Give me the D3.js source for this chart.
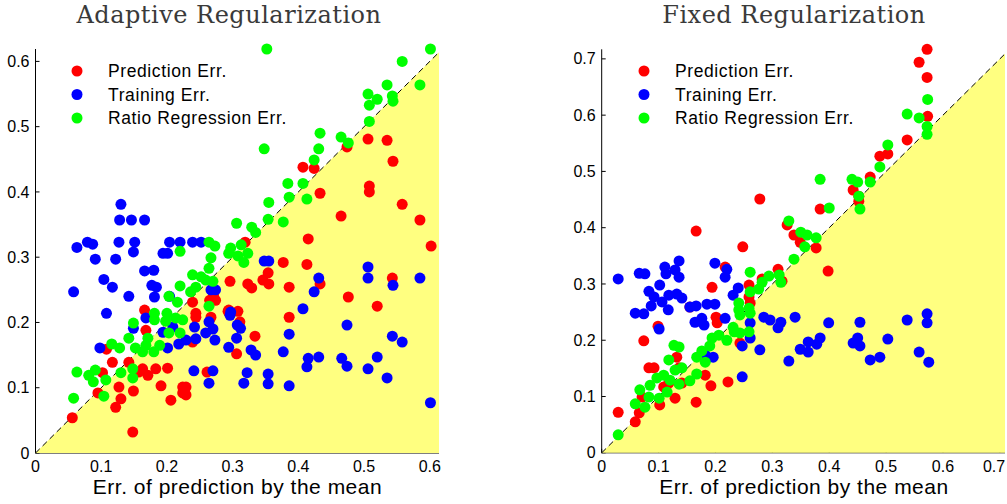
<!DOCTYPE html>
<html>
<head>
<meta charset="utf-8">
<script src="https://cdn.jsdelivr.net/npm/d3@7"></script>
<style>
  body { margin: 0; background: #fff; }
  svg { display: block; }
</style>
</head>
<body>
<svg id="chart" width="1007" height="504"></svg>
<script>
// Legend entries and marker colours (drawn in this order: red, blue, green)
const seriesNames = ["Prediction Err.", "Training Err.", "Ratio Regression Err."];
const seriesColors = ["#ff0000", "#0000ff", "#00ff00"];

// Tick values
const adaptiveTicks = [0, 0.1, 0.2, 0.3, 0.4, 0.5, 0.6];
const fixedTicks = [0, 0.1, 0.2, 0.3, 0.4, 0.5, 0.6, 0.7];

// Adaptive regularization: [error of mean predictor, error]
const adaptivePrediction = [
  [0.474,0.469],[0.506,0.481],[0.535,0.479],[0.544,0.447],[0.407,0.438],[0.424,0.436],
  [0.508,0.409],[0.508,0.400],[0.433,0.398],[0.558,0.381],[0.465,0.363],[0.585,0.357],
  [0.415,0.328],[0.602,0.317],[0.319,0.323],[0.377,0.292],[0.413,0.289],[0.354,0.276],
  [0.346,0.265],[0.355,0.259],[0.296,0.263],[0.323,0.259],[0.329,0.253],[0.386,0.254],
  [0.433,0.259],[0.476,0.239],[0.520,0.225],[0.543,0.268],[0.386,0.208],[0.308,0.217],
  [0.293,0.217],[0.311,0.201],[0.265,0.234],[0.271,0.242],[0.274,0.234],[0.239,0.231],
  [0.244,0.214],[0.294,0.219],[0.166,0.219],[0.334,0.179],[0.306,0.152],[0.261,0.124],
  [0.229,0.101],[0.229,0.089],[0.239,0.170],[0.244,0.208],[0.267,0.208],[0.117,0.139],
  [0.142,0.139],[0.163,0.129],[0.183,0.129],[0.201,0.130],[0.171,0.119],[0.157,0.124],
  [0.102,0.123],[0.095,0.092],[0.127,0.101],[0.149,0.095],[0.191,0.103],[0.206,0.081],
  [0.130,0.083],[0.122,0.070],[0.056,0.054],[0.148,0.032],[0.224,0.101],[0.224,0.092],
  [0.168,0.188],[0.108,0.159]
];
const adaptiveTraining = [
  [0.130,0.381],[0.128,0.357],[0.146,0.357],[0.166,0.357],[0.063,0.315],[0.079,0.323],
  [0.087,0.320],[0.127,0.323],[0.151,0.323],[0.149,0.308],[0.091,0.297],[0.122,0.297],
  [0.204,0.323],[0.220,0.323],[0.239,0.323],[0.252,0.323],[0.194,0.306],[0.201,0.306],
  [0.166,0.279],[0.180,0.280],[0.104,0.266],[0.117,0.254],[0.058,0.247],[0.142,0.240],
  [0.177,0.257],[0.184,0.254],[0.181,0.239],[0.204,0.240],[0.108,0.214],[0.348,0.294],
  [0.355,0.294],[0.431,0.268],[0.424,0.247],[0.267,0.250],[0.274,0.250],[0.407,0.221],
  [0.297,0.216],[0.506,0.285],[0.506,0.268],[0.544,0.257],[0.585,0.268],[0.474,0.196],
  [0.601,0.077],[0.558,0.170],[0.543,0.179],[0.520,0.147],[0.506,0.129],[0.535,0.115],
  [0.466,0.145],[0.474,0.133],[0.415,0.145],[0.431,0.147],[0.413,0.132],[0.386,0.182],
  [0.377,0.155],[0.386,0.103],[0.354,0.121],[0.354,0.106],[0.322,0.123],[0.317,0.107],
  [0.328,0.158],[0.335,0.150],[0.306,0.176],[0.307,0.196],[0.312,0.191],[0.294,0.162],
  [0.273,0.173],[0.270,0.126],[0.264,0.107],[0.241,0.126],[0.242,0.193],[0.264,0.201],
  [0.270,0.190],[0.259,0.184],[0.244,0.175],[0.229,0.173],[0.296,0.211],[0.098,0.161],
  [0.149,0.191],[0.168,0.207],[0.194,0.185],[0.209,0.193],[0.201,0.161],[0.218,0.167]
];
const adaptiveRatio = [
  [0.352,0.619],[0.601,0.619],[0.558,0.600],[0.535,0.564],[0.585,0.564],[0.506,0.550],
  [0.520,0.542],[0.508,0.533],[0.543,0.547],[0.544,0.539],[0.508,0.508],[0.433,0.490],
  [0.465,0.484],[0.476,0.475],[0.348,0.466],[0.431,0.466],[0.424,0.449],[0.384,0.413],
  [0.407,0.413],[0.413,0.389],[0.386,0.392],[0.355,0.384],[0.306,0.352],[0.329,0.346],
  [0.335,0.338],[0.354,0.358],[0.377,0.354],[0.264,0.323],[0.273,0.317],[0.297,0.314],
  [0.313,0.319],[0.294,0.306],[0.308,0.302],[0.323,0.306],[0.317,0.292],[0.267,0.299],
  [0.264,0.283],[0.239,0.273],[0.252,0.270],[0.259,0.265],[0.270,0.263],[0.244,0.254],
  [0.236,0.247],[0.264,0.225],[0.220,0.309],[0.220,0.256],[0.203,0.240],[0.216,0.231],
  [0.181,0.214],[0.200,0.214],[0.149,0.199],[0.142,0.176],[0.116,0.167],[0.128,0.161],
  [0.152,0.161],[0.171,0.176],[0.168,0.165],[0.163,0.155],[0.180,0.155],[0.189,0.165],
  [0.181,0.204],[0.198,0.202],[0.213,0.207],[0.224,0.204],[0.203,0.184],[0.220,0.184],
  [0.063,0.124],[0.081,0.119],[0.091,0.127],[0.088,0.109],[0.107,0.112],[0.130,0.123],
  [0.148,0.129],[0.148,0.115],[0.104,0.087],[0.058,0.084]
];

// Fixed regularization
const fixedPrediction = [
  [0.572,0.717],[0.558,0.694],[0.572,0.667],[0.573,0.598],[0.537,0.556],[0.489,0.527],
  [0.503,0.531],[0.472,0.490],[0.442,0.467],[0.452,0.456],[0.452,0.447],[0.278,0.451],
  [0.384,0.433],[0.166,0.394],[0.326,0.405],[0.338,0.387],[0.349,0.374],[0.248,0.366],
  [0.377,0.364],[0.398,0.323],[0.310,0.326],[0.317,0.305],[0.282,0.309],[0.217,0.330],
  [0.194,0.294],[0.259,0.298],[0.259,0.277],[0.261,0.266],[0.201,0.241],[0.155,0.259],
  [0.099,0.225],[0.074,0.199],[0.132,0.170],[0.083,0.151],[0.092,0.151],[0.136,0.151],
  [0.141,0.124],[0.118,0.124],[0.071,0.099],[0.109,0.117],[0.029,0.072],[0.059,0.055],
  [0.066,0.071],[0.102,0.085],[0.129,0.097],[0.166,0.090],[0.192,0.119],[0.222,0.126],
  [0.182,0.138],[0.243,0.195],[0.203,0.231]
];
const fixedTraining = [
  [0.029,0.309],[0.066,0.319],[0.076,0.318],[0.111,0.330],[0.113,0.318],[0.129,0.325],
  [0.136,0.341],[0.136,0.312],[0.102,0.298],[0.083,0.287],[0.092,0.277],[0.087,0.261],
  [0.106,0.268],[0.118,0.280],[0.132,0.282],[0.141,0.275],[0.117,0.254],[0.059,0.248],
  [0.074,0.247],[0.155,0.259],[0.166,0.261],[0.185,0.264],[0.199,0.264],[0.199,0.337],
  [0.220,0.326],[0.217,0.312],[0.240,0.293],[0.231,0.280],[0.176,0.239],[0.164,0.232],
  [0.217,0.239],[0.285,0.241],[0.296,0.236],[0.315,0.232],[0.340,0.241],[0.399,0.231],
  [0.454,0.232],[0.537,0.236],[0.572,0.247],[0.572,0.231],[0.101,0.220],[0.182,0.174],
  [0.196,0.170],[0.247,0.135],[0.247,0.190],[0.261,0.204],[0.278,0.183],[0.329,0.163],
  [0.349,0.184],[0.310,0.222],[0.363,0.197],[0.363,0.179],[0.378,0.193],[0.384,0.204],
  [0.442,0.195],[0.450,0.204],[0.454,0.190],[0.472,0.165],[0.489,0.170],[0.503,0.202],
  [0.558,0.179],[0.575,0.161],[0.180,0.227],[0.261,0.231]
];
const fixedRatio = [
  [0.573,0.628],[0.537,0.602],[0.558,0.595],[0.572,0.580],[0.572,0.566],[0.503,0.547],
  [0.489,0.508],[0.384,0.486],[0.440,0.486],[0.450,0.481],[0.472,0.481],[0.452,0.456],
  [0.454,0.433],[0.400,0.435],[0.329,0.412],[0.350,0.392],[0.361,0.387],[0.377,0.382],
  [0.357,0.366],[0.338,0.344],[0.261,0.321],[0.294,0.314],[0.312,0.316],[0.315,0.303],
  [0.282,0.303],[0.276,0.291],[0.261,0.286],[0.241,0.266],[0.241,0.254],[0.259,0.257],
  [0.261,0.248],[0.243,0.245],[0.231,0.223],[0.259,0.215],[0.243,0.213],[0.233,0.215],
  [0.220,0.200],[0.206,0.209],[0.194,0.204],[0.190,0.190],[0.176,0.181],[0.167,0.170],
  [0.182,0.161],[0.127,0.191],[0.136,0.188],[0.118,0.165],[0.129,0.147],[0.141,0.151],
  [0.109,0.138],[0.097,0.133],[0.085,0.120],[0.067,0.112],[0.083,0.099],[0.101,0.097],
  [0.115,0.108],[0.120,0.129],[0.136,0.122],[0.155,0.128],[0.167,0.140],[0.059,0.087],
  [0.076,0.081],[0.029,0.032]
];

const svg = d3.select("#chart");
svg.append("rect").attr("width", 1007).attr("height", 504).attr("fill", "#fff");

const sans = "'Liberation Sans', Arial, Helvetica, sans-serif";
const serif = "'DejaVu Serif', 'Liberation Serif', serif";
const fmt = d => d === 0 ? "0" : d.toFixed(1);
const canvasWidth = 1007;

function drawPanel(p) {
  const g = svg.append("g");
  const x = d3.scaleLinear().domain([0, p.xMax]).range([p.left, p.right]);
  const y = d3.scaleLinear().domain([0, p.yMax]).range([p.bottom, p.top]);

  // axis lines and inward ticks (drawn first, the shaded triangle sits above them)
  g.append("line").attr("x1", p.left).attr("x2", p.left)
    .attr("y1", p.top).attr("y2", p.bottom).attr("stroke", "#000").attr("stroke-width", 1);
  g.append("line").attr("x1", p.left).attr("x2", p.right)
    .attr("y1", p.bottom).attr("y2", p.bottom).attr("stroke", "#000").attr("stroke-width", 1);
  g.selectAll(".yt").data(p.ticks).enter().append("line")
    .attr("x1", p.left).attr("x2", p.left + 4)
    .attr("y1", d => y(d)).attr("y2", d => y(d)).attr("stroke", "#000");
  g.selectAll(".xt").data(p.ticks).enter().append("line")
    .attr("x1", d => x(d)).attr("x2", d => x(d))
    .attr("y1", p.bottom).attr("y2", p.bottom - 4).attr("stroke", "#000");

  // region below the diagonal
  const tri = [[0, 0], [p.xMax, 0], [p.xMax, p.xMax]];
  g.append("path")
    .attr("d", d3.line().x(d => x(d[0])).y(d => y(d[1]))(tri) + "Z")
    .attr("fill", "#ffff80");

  // y = x reference
  g.append("line")
    .attr("x1", x(0)).attr("y1", y(0)).attr("x2", x(p.xMax)).attr("y2", y(p.xMax))
    .attr("stroke", "#000").attr("stroke-width", 1).attr("stroke-dasharray", "6,4");

  // tick labels
  g.selectAll(".yl").data(p.ticks).enter().append("text")
    .attr("x", p.left - 6).attr("y", d => y(d)).attr("dy", "0.35em")
    .attr("text-anchor", "end").attr("font-family", sans).attr("font-size", 16)
    .text(fmt);
  g.selectAll(".xl").data(p.ticks).enter().append("text")
    .attr("x", d => Math.min(x(d), canvasWidth - 13)).attr("y", p.bottom + 19)
    .attr("text-anchor", "middle").attr("font-family", sans).attr("font-size", 16)
    .text(fmt);

  // scatter points
  p.series.forEach((pts, i) => {
    g.append("g").selectAll("circle").data(pts).enter().append("circle")
      .attr("cx", d => x(d[0])).attr("cy", d => y(d[1])).attr("r", 5.5)
      .attr("fill", seriesColors[i]);
  });

  // legend
  seriesNames.forEach((name, i) => {
    const ly = 71 + i * 23.5;
    g.append("circle").attr("cx", p.legendX).attr("cy", ly).attr("r", 5.5)
      .attr("fill", seriesColors[i]);
    g.append("text").attr("x", p.legendX + 31).attr("y", ly).attr("dy", "0.36em")
      .attr("font-family", sans).attr("font-size", 17.5).attr("letter-spacing", 0.6)
      .text(name);
  });

  // title and axis label
  g.append("text").attr("x", p.titleX).attr("y", 23).attr("text-anchor", "middle")
    .attr("font-family", serif).attr("font-size", 24).attr("letter-spacing", 0.5)
    .attr("fill", "#3a3a3a")
    .text(p.title);
  g.append("text").attr("x", p.labelX).attr("y", 494).attr("text-anchor", "middle")
    .attr("font-family", sans).attr("font-size", 21).attr("letter-spacing", 0.5)
    .text("Err. of prediction by the mean");
}

drawPanel({
  title: "Adaptive Regularization", titleX: 229, labelX: 237.5,
  left: 35.5, right: 439, top: 49, bottom: 453,
  xMax: 0.614, yMax: 0.619, ticks: adaptiveTicks, legendX: 77,
  series: [adaptivePrediction, adaptiveTraining, adaptiveRatio]
});
drawPanel({
  title: "Fixed Regularization", titleX: 794, labelX: 804,
  left: 601.7, right: 1005, top: 49.3, bottom: 452.8,
  xMax: 0.709, yMax: 0.717, ticks: fixedTicks, legendX: 644,
  series: [fixedPrediction, fixedTraining, fixedRatio]
});
</script>
</body>
</html>
